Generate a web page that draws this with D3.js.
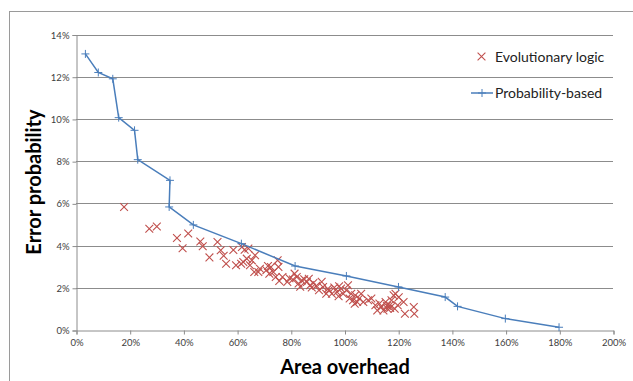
<!DOCTYPE html>
<html>
<head>
<meta charset="utf-8">
<script src="https://cdn.jsdelivr.net/npm/d3@7"></script>
<style>
  body { margin: 0; background: #fff; }
  svg { display: block; font-family: Lato, "Liberation Sans", sans-serif; }
</style>
</head>
<body>
<script>
// Probability-based (line), values in percent
const probArea  = [3.5, 8.3, 13.7, 15.9, 21.8, 23.0, 35.0, 34.7, 43.7, 61.6, 81.6, 100.7, 120.1, 137.5, 142.1, 159.9, 179.9];
const probError = [13.08, 12.2, 11.9, 10.06, 9.46, 8.07, 7.09, 5.83, 4.98, 4.09, 3.03, 2.56, 2.04, 1.56, 1.12, 0.54, 0.13];

// Evolutionary logic (scatter), values in percent
const evoArea = [17.9, 27.3, 30.1, 37.6, 39.7, 41.8, 46.3, 47.2, 49.7, 52.7, 53.9, 55.0, 55.9, 58.6, 59.6,
  61.5, 61.8, 62.3, 62.8, 63.6, 64.2, 64.8, 65.5, 66.7, 66.4, 67.9, 68.5, 70.9, 71.5, 72.0, 72.6, 73.5,
  74.4, 75.1, 75.4, 75.7, 76.9, 78.7, 79.5, 80.8, 81.4, 82.2, 82.9, 83.5, 84.1, 85.0, 86.0, 86.7, 87.2,
  87.8, 88.4, 89.5, 90.5, 91.5, 92.0, 93.2, 93.8, 94.2, 95.3, 96.2, 97.2, 97.8, 98.0, 98.7, 99.5, 100.7,
  101.3, 101.9, 102.5, 103.2, 103.8, 104.0, 104.7, 105.5, 106.2, 107.0, 108.8, 110.0, 111.5, 112.2, 113.0,
  113.7, 114.5, 115.3, 115.8, 116.0, 116.8, 117.0, 117.5, 118.3, 118.7, 119.0, 119.8, 120.2, 122.0, 122.5,
  125.8, 126.0];
const evoError = [5.83, 4.80, 4.90, 4.36, 3.87, 4.57, 4.19, 3.97, 3.44, 4.17, 3.78, 3.52, 3.14, 3.79, 3.07,
  3.14, 3.93, 3.22, 3.80, 3.38, 3.86, 3.07, 3.30, 3.54, 2.75, 2.75, 2.90, 2.83, 3.03, 2.67, 2.98, 2.75,
  2.51, 3.30, 2.99, 2.32, 2.51, 2.28, 2.45, 2.39, 2.67, 2.51, 2.20, 2.05, 2.35, 2.40, 2.28, 2.43, 2.12,
  2.01, 2.23, 2.10, 1.88, 2.28, 2.04, 1.72, 1.95, 1.88, 1.72, 2.01, 1.80, 1.60, 2.07, 1.96, 1.72, 1.88,
  2.12, 1.49, 1.72, 1.41, 1.25, 1.64, 1.33, 1.49, 1.72, 1.33, 1.41, 1.49, 1.17, 0.93, 1.25,
  1.09, 0.93, 1.33, 1.15, 1.01, 1.17, 1.05, 1.41, 1.64, 1.01, 1.72, 1.17, 1.55, 1.33, 0.77,
  1.09, 0.77];

const xTicks = [0, 20, 40, 60, 80, 100, 120, 140, 160, 180, 200];
const yTicks = [0, 2, 4, 6, 8, 10, 12, 14];

const W = 633, H = 381;
const gridColor = "#8c8c8c";
const blue = "#4a7ebb", red = "#c0504d";

const svg = d3.select("body").append("svg").attr("width", W).attr("height", H);

// chart border
svg.append("rect")
  .attr("x", 9.5).attr("y", 11.5)
  .attr("width", 640).attr("height", 400)
  .attr("fill", "none").attr("stroke", "#9a9a9a");

var x = d3.scaleLinear().domain([0, 200]).range([76, 613]);
var y = d3.scaleLinear().domain([0, 14]).range([330, 34.5]);

// gridlines
svg.append("g").selectAll("line").data(yTicks.filter(d => d > 0)).enter()
  .append("line")
  .attr("x1", x(0)).attr("x2", x(200))
  .attr("y1", d => Math.round(y(d)) + 0.5).attr("y2", d => Math.round(y(d)) + 0.5)
  .attr("stroke", gridColor);

const pct = d => d + "%";

var yAxis = svg.append("g")
  .attr("transform", "translate(" + (Math.round(x(0)) + 0.5) + ",0.5)")
  .call(d3.axisLeft(y).tickValues(yTicks).tickFormat(pct).tickSize(4).tickPadding(3));
var xAxis = svg.append("g")
  .attr("transform", "translate(0.5," + (Math.round(y(0)) + 0.5) + ")")
  .call(d3.axisBottom(x).tickValues(xTicks).tickFormat(pct).tickSize(4).tickPadding(5));

[xAxis, yAxis].forEach(a => {
  a.select(".domain").attr("stroke", gridColor);
  a.selectAll(".tick line").attr("stroke", gridColor);
  a.selectAll(".tick text").attr("fill", "#404040").attr("font-size", 9.5)
    .attr("font-family", "Lato, 'Liberation Sans', sans-serif");
});

// scatter: evolutionary logic
const xMark = (g, s) => g.append("path")
  .attr("d", "M" + (-s) + "," + (-s) + "L" + s + "," + s + "M" + (-s) + "," + s + "L" + s + "," + (-s))
  .attr("stroke", red).attr("stroke-width", 1.1).attr("fill", "none");

const evo = evoArea.map((a, i) => ({a: a, e: evoError[i]}));
svg.append("g").selectAll("g").data(evo).enter()
  .append("g")
  .attr("transform", d => "translate(" + x(d.a) + "," + y(d.e) + ")")
  .each(function() { xMark(d3.select(this), 3.9); });

// line: probability based
const prob = probArea.map((a, i) => ({a: a, e: probError[i]}));
svg.append("path")
  .datum(prob)
  .attr("d", d3.line().x(d => x(d.a)).y(d => y(d.e)))
  .attr("fill", "none").attr("stroke", blue).attr("stroke-width", 1.5);

const plusMark = (g, s) => g.append("path")
  .attr("d", "M" + (-s) + ",0L" + s + ",0M0," + (-s) + "L0," + s)
  .attr("stroke", blue).attr("stroke-width", 1).attr("fill", "none");

svg.append("g").selectAll("g").data(prob).enter()
  .append("g")
  .attr("transform", d => "translate(" + x(d.a) + "," + y(d.e) + ")")
  .each(function() { plusMark(d3.select(this), 4); });

// legend
var lg1 = svg.append("g").attr("transform", "translate(481.5,56.5)");
xMark(lg1, 3.9);
svg.append("text").attr("x", 495).attr("y", 61.5).attr("font-size", 14).attr("fill", "#222")
  .text("Evolutionary logic");

svg.append("line").attr("x1", 471).attr("x2", 493).attr("y1", 93).attr("y2", 93)
  .attr("stroke", blue).attr("stroke-width", 1.5);
plusMark(svg.append("g").attr("transform", "translate(482,93)"), 4);
svg.append("text").attr("x", 495).attr("y", 98).attr("font-size", 14).attr("fill", "#222")
  .text("Probability-based");

// axis titles
svg.append("text")
  .attr("x", 345).attr("y", 374)
  .attr("text-anchor", "middle")
  .attr("font-size", 20).attr("font-weight", "bold").attr("fill", "#000")
  .text("Area overhead");

svg.append("text")
  .attr("transform", "translate(41,182) rotate(-90)")
  .attr("text-anchor", "middle")
  .attr("font-size", 20).attr("font-weight", "bold").attr("fill", "#000")
  .text("Error probability");
</script>
</body>
</html>
